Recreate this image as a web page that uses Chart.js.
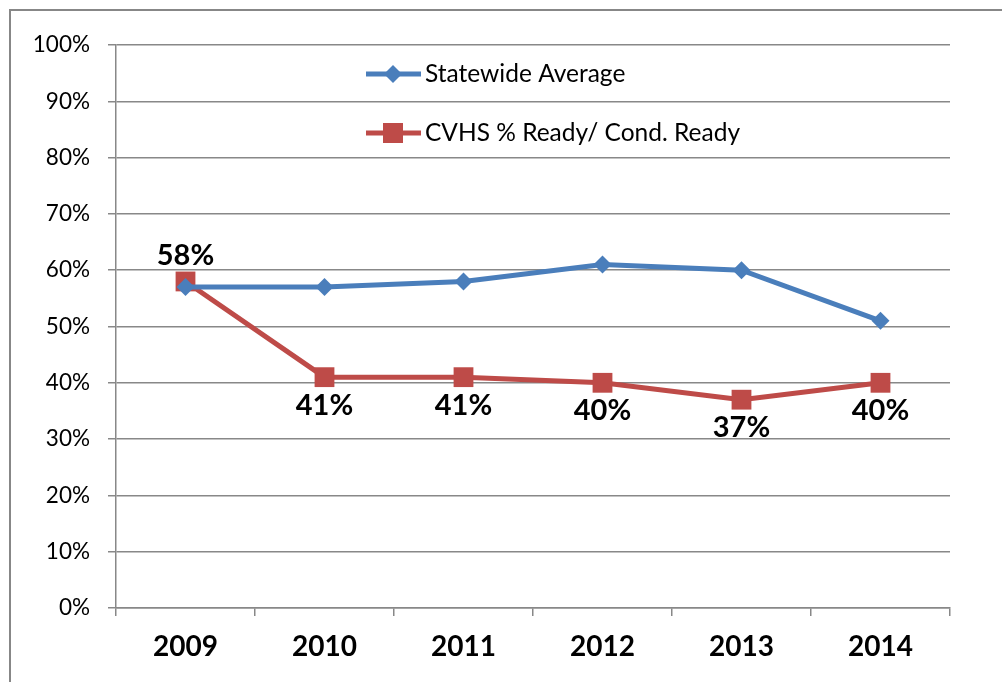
<!DOCTYPE html>
<html>
<head>
<meta charset="utf-8">
<script src="https://cdn.jsdelivr.net/npm/chart.js@4"></script>
<style>
  html, body { margin: 0; padding: 0; background: #fff; }
  #wrap { width: 1002px; height: 682px; }
</style>
</head>
<body>
<div id="wrap"><canvas id="chartCanvas" width="1002" height="682"></canvas></div>
<script>
// chart data
const years = ['2009', '2010', '2011', '2012', '2013', '2014'];
const statewide = [57, 57, 58, 61, 60, 51];
const cvhs = [58, 41, 41, 40, 37, 40];
const yTicks = [0, 10, 20, 30, 40, 50, 60, 70, 80, 90, 100];

const blue = '#4a7ebb';
const red = '#be4b48';
const gridGray = '#888888';
const fontFamily = 'Lato, "Open Sans", sans-serif';

// frame around the whole picture
const framePlugin = {
    id: 'frame',
    beforeDraw(chart) {
        const ctx = chart.ctx;
        ctx.save();
        ctx.fillStyle = '#fff';
        ctx.fillRect(0, 0, chart.width, chart.height);
        ctx.strokeStyle = '#878787';
        ctx.lineWidth = 2;
        ctx.strokeRect(10, 10, chart.width + 20, chart.height + 20);
        ctx.restore();
    }
};

// legend sitting inside the plot area, no box
const innerLegend = {
    id: 'innerLegend',
    afterDraw(chart) {
        const ctx = chart.ctx;
        const rows = [74, 133];
        ctx.save();
        chart.data.datasets.forEach((ds, i) => {
            const y = rows[i];
            ctx.strokeStyle = ds.borderColor;
            ctx.lineWidth = 5;
            ctx.beginPath();
            ctx.moveTo(366, y);
            ctx.lineTo(421, y);
            ctx.stroke();
            ctx.fillStyle = ds.backgroundColor;
            ctx.beginPath();
            if (ds.pointStyle === 'rectRot') {
                ctx.moveTo(393, y - 9);
                ctx.lineTo(402, y);
                ctx.lineTo(393, y + 9);
                ctx.lineTo(384, y);
                ctx.closePath();
            } else {
                ctx.rect(383, y - 10, 20, 20);
            }
            ctx.fill();
            ctx.fillStyle = '#000';
            ctx.font = '24.5px ' + fontFamily;
            ctx.textAlign = 'left';
            ctx.textBaseline = 'middle';
            ctx.fillText(ds.label, 425, y);
        });
        ctx.restore();
    }
};

// value labels for the CVHS series
const valueLabels = {
    id: 'valueLabels',
    afterDatasetsDraw(chart) {
        const ctx = chart.ctx;
        const meta = chart.getDatasetMeta(1);
        ctx.save();
        ctx.fillStyle = '#000';
        ctx.font = 'bold 29px ' + fontFamily;
        ctx.textAlign = 'center';
        ctx.textBaseline = 'middle';
        meta.data.forEach((pt, i) => {
            const above = i === 0;
            ctx.fillText(cvhs[i] + '%', pt.x, above ? pt.y - 26 : pt.y + 28);
        });
        ctx.restore();
    }
};

const chartContext = document.getElementById('chartCanvas').getContext('2d');
const readyChart = new Chart(chartContext, {
    type: 'line',
    data: {
        labels: years,
        datasets: [{
            label: 'Statewide Average',
            data: statewide,
            borderColor: blue,
            backgroundColor: blue,
            borderWidth: 5,
            pointStyle: 'rectRot',
            pointRadius: 9,
            pointBorderWidth: 0,
            tension: 0
        }, {
            label: 'CVHS % Ready/ Cond. Ready',
            data: cvhs,
            borderColor: red,
            backgroundColor: red,
            borderWidth: 5,
            pointStyle: 'rect',
            pointRadius: 14,
            pointBorderWidth: 0,
            tension: 0
        }]
    },
    options: {
        responsive: false,
        animation: false,
        layout: { padding: { left: 0, top: 45, right: 52, bottom: 0 } },
        plugins: {
            legend: { display: false },
            tooltip: { enabled: false }
        },
        scales: {
            x: {
                offset: true,
                grid: {
                    offset: true,
                    drawOnChartArea: false,
                    drawTicks: true,
                    tickLength: 8,
                    color: gridGray,
                    lineWidth: 1.5
                },
                border: { color: gridGray, width: 1.5 },
                ticks: {
                    color: '#000',
                    padding: 14,
                    font: { family: fontFamily, size: 28, weight: 'bold' }
                },
                afterFit(scale) { scale.height = 74; }
            },
            y: {
                min: 0,
                max: 100,
                afterBuildTicks(scale) {
                    scale.ticks = yTicks.map(v => ({ value: v }));
                },
                grid: {
                    color: gridGray,
                    lineWidth: 1.5,
                    tickLength: 8
                },
                border: { color: gridGray, width: 1.5 },
                ticks: {
                    color: '#000',
                    padding: 18,
                    font: { family: fontFamily, size: 22.5 },
                    callback: v => v + '%'
                },
                afterFit(scale) { scale.width = 116; }
            }
        }
    },
    plugins: [framePlugin, innerLegend, valueLabels]
});
</script>
</body>
</html>
